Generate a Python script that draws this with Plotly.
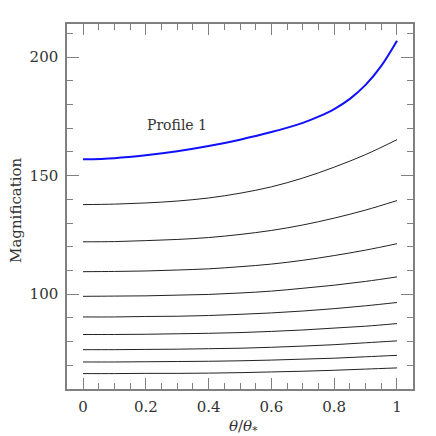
import plotly.graph_objects as go

# theta / theta_star sample points
theta = [0.0, 0.1, 0.2, 0.3, 0.4, 0.5, 0.6, 0.7, 0.8, 0.9, 1.0]
theta_profile1 = [0.0, 0.1, 0.2, 0.3, 0.4, 0.5, 0.6, 0.7, 0.75, 0.8, 0.85, 0.9, 0.95, 1.0]

# magnification, profile 1 (blue) and the other profiles (black)
profile1 = [156.9, 157.4, 158.6, 160.3, 162.5, 165.2, 168.4, 172.3, 174.9, 178.1,
            182.4, 188.3, 196.3, 206.9]
profile2 = [137.8, 138.0, 138.5, 139.3, 140.6, 142.6, 145.3, 149.0, 153.6, 158.9, 165.2]
profile3 = [122.1, 122.2, 122.6, 123.1, 123.9, 125.2, 126.9, 129.2, 132.1, 135.5, 139.5]
profile4 = [109.5, 109.6, 109.8, 110.2, 110.7, 111.6, 112.7, 114.3, 116.3, 118.6, 121.3]
profile5 = [99.1, 99.2, 99.3, 99.6, 99.9, 100.5, 101.3, 102.5, 103.8, 105.4, 107.3]
profile6 = [90.4, 90.4, 90.6, 90.7, 91.0, 91.5, 92.1, 92.9, 93.9, 95.1, 96.5]
profile7 = [83.0, 83.0, 83.1, 83.3, 83.5, 83.8, 84.3, 84.9, 85.7, 86.5, 87.6]
profile8 = [76.6, 76.6, 76.7, 76.8, 77.0, 77.2, 77.6, 78.1, 78.7, 79.5, 80.3]
profile9 = [71.4, 71.4, 71.5, 71.6, 71.7, 71.9, 72.2, 72.6, 73.0, 73.6, 74.2]
profile10 = [66.5, 66.5, 66.6, 66.6, 66.7, 66.9, 67.2, 67.5, 67.9, 68.4, 68.9]

other_profiles = [profile2, profile3, profile4, profile5, profile6,
                  profile7, profile8, profile9, profile10]

font_family = "DejaVu Serif"
text_color = "#333333"
frame_color = "#808080"

fig = go.Figure()

for values in other_profiles:
    fig.add_trace(go.Scatter(
        x=theta, y=values, mode="lines",
        line=dict(color="#222222", width=1, shape="spline", smoothing=1),
        showlegend=False, hoverinfo="skip",
    ))

fig.add_trace(go.Scatter(
    x=theta_profile1, y=profile1, mode="lines",
    line=dict(color="#1010ff", width=2, shape="spline", smoothing=1),
    showlegend=False,
))

fig.add_annotation(
    x=0.30, y=171.5, text="Profile 1", showarrow=False,
    font=dict(family=font_family, size=14, color=text_color),
)

# axis titles placed by hand
fig.add_annotation(
    x=0.509, y=-0.104, xref="paper", yref="paper",
    text="<i>θ</i>/<i>θ</i><sub>*</sub>", showarrow=False,
    xanchor="center", yanchor="middle",
    font=dict(family=font_family, size=15, color=text_color),
)
fig.add_annotation(
    x=-0.148, y=0.49, xref="paper", yref="paper",
    text="Magnification", showarrow=False, textangle=-90,
    xanchor="center", yanchor="middle",
    font=dict(family=font_family, size=15, color=text_color),
)

axis_common = dict(
    showgrid=False, zeroline=False, automargin=False,
    showline=True, linecolor=frame_color, linewidth=1.5,
    mirror="allticks", ticks="inside", tickcolor=frame_color,
    tickwidth=1,
    tickfont=dict(family=font_family, size=15, color=text_color),
)

fig.update_xaxes(
    range=[-0.051, 1.051], dtick=0.2, tick0=0, ticklen=11,
    minor=dict(dtick=0.05, ticklen=6, ticks="inside", tickcolor=frame_color),
    ticklabelstandoff=3,
    **axis_common,
)
fig.update_yaxes(
    range=[60, 214], dtick=50, tick0=0, ticklen=12,
    minor=dict(dtick=10, ticklen=6, ticks="inside", tickcolor=frame_color),
    ticklabelstandoff=4,
    **axis_common,
)

# the page body adds an 8 px offset, so the figure is 428 px and margins are shifted
fig.update_layout(
    width=428, height=428,
    margin=dict(l=59, r=23, t=16, b=47),
    plot_bgcolor="white", paper_bgcolor="white",
)

fig.write_html("out.html")
